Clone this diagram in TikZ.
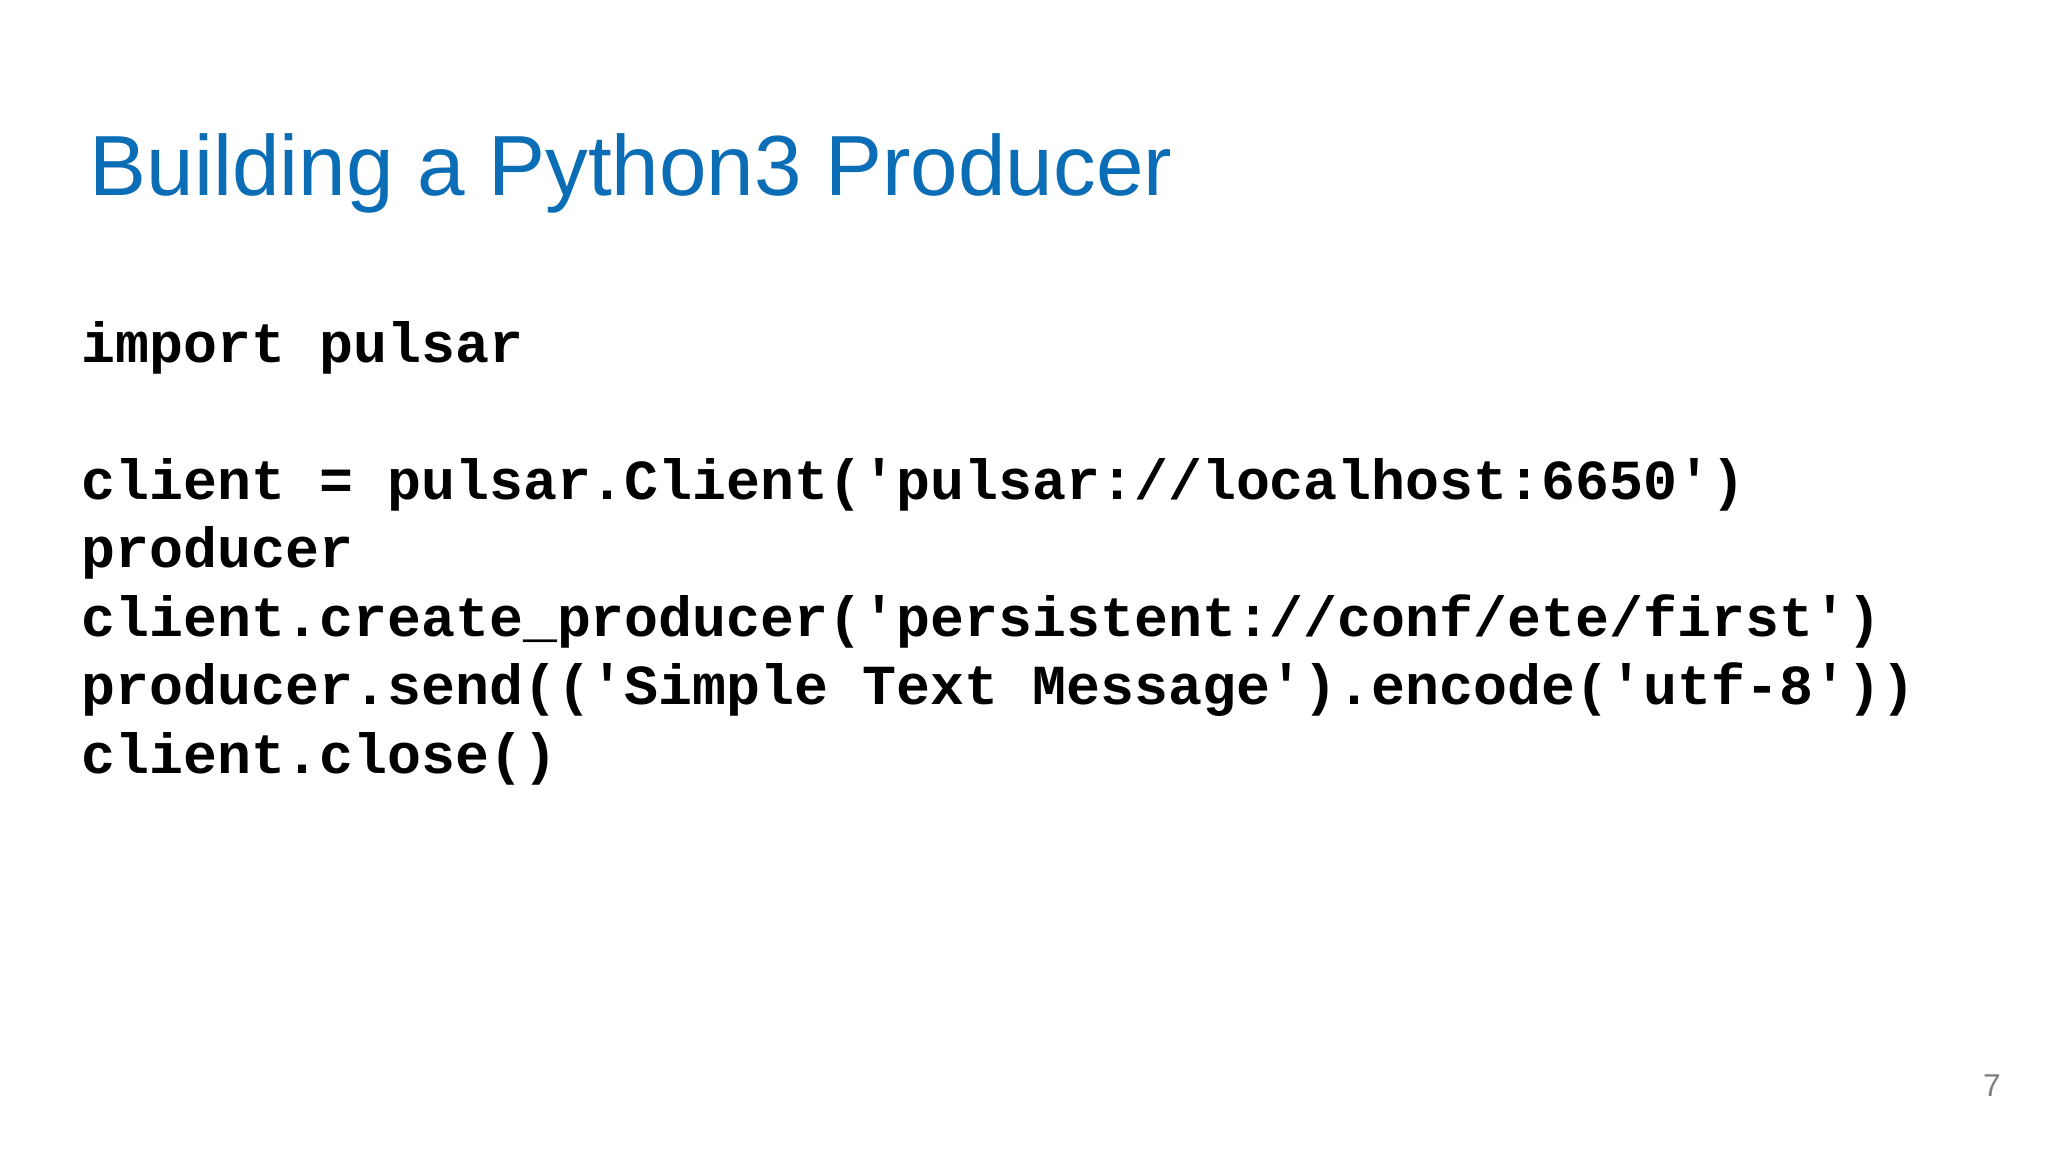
\documentclass[tikz,border=0pt]{standalone}
\usepackage{fontspec}
\setmainfont{Liberation Sans}
\setmonofont{Liberation Mono}
\definecolor{titleblue}{HTML}{0B6DB5}
\tikzset{
  codeline/.style={anchor=base west, inner sep=0pt, font=\ttfamily\bfseries\fontsize{16.1pt}{18pt}\selectfont},
  slidetitle/.style={anchor=base west, inner sep=0pt, text=titleblue, font=\fontsize{24.3pt}{28pt}\selectfont}
}
\begin{document}
\begin{tikzpicture}
\useasboundingbox[fill=white] (0,0) rectangle (20.48,-11.52);
\node[slidetitle] (title) at (0.89,-1.96) {Building a Python3 Producer};
% code lines
\node[codeline] (l1) at (0.81,-3.63) {import pulsar};
\node[codeline] (l2) at (0.81,-5.00) {client = pulsar.Client('pulsar://localhost:6650')};
\node[codeline] (l3) at (0.81,-5.68) {producer};
\node[codeline] (l4) at (0.81,-6.36) {client.create\_producer('persistent://conf/ete/first')};
\node[codeline] (l5) at (0.81,-7.05) {producer.send(('Simple Text Message').encode('utf-8'))};
\node[codeline] (l6) at (0.81,-7.73) {client.close()};
\node[anchor=base, inner sep=0pt, text=gray, font=\fontsize{9pt}{11pt}\selectfont] (page) at (19.92,-10.96) {7};
\end{tikzpicture}
\end{document}
